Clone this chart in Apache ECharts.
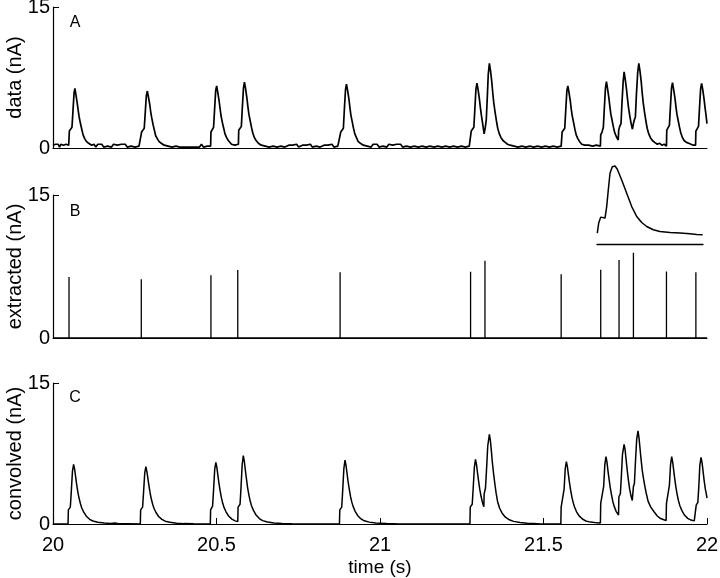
<!DOCTYPE html>
<html>
<head>
<meta charset="utf-8">
<script src="https://cdn.jsdelivr.net/npm/echarts@6/dist/echarts.min.js"></script>
<style>
html,body{margin:0;padding:0;background:#fff;}
#chart{width:720px;height:578px;}
</style>
</head>
<body>
<div id="chart"></div>
<script>
// ---- Data ----
const xTicks = [20, 20.5, 21, 21.5, 22];
const yTicks = [0, 15];
const panelLabels = ['A', 'B', 'C'];
const yNames = ['data (nA)', 'extracted (nA)', 'convolved (nA)'];
const xName = 'time (s)';

// Panel A: recorded data trace [time (s), current (nA)]
const dataTrace = [
[20.000,0.3],[20.004,0.1],[20.008,0.4],[20.012,0.2],[20.016,0.4],[20.020,0.1],[20.024,0.4],[20.028,0.2],[20.032,0.3],[20.036,0.1],[20.040,0.4],[20.044,0.2],[20.048,0.3],
[20.049,0.2],[20.050,1.8],[20.054,2.0],[20.058,2.2],[20.061,3.9],[20.0645,5.9],[20.067,6.35],[20.070,5.7],[20.074,4.8],[20.077,4.0],[20.080,3.3],[20.084,2.6],[20.088,2.0],[20.092,1.4],[20.097,1.0],[20.102,0.7],[20.109,0.5],[20.118,0.3],
[20.125,0.4],[20.131,0.1],[20.137,0.4],[20.143,0.2],[20.149,0.4],[20.155,0.1],[20.161,0.3],[20.167,0.2],[20.173,0.4],[20.179,0.1],[20.185,0.4],[20.191,0.2],[20.197,0.3],[20.203,0.1],[20.209,0.4],[20.215,0.2],[20.221,0.4],[20.227,0.1],[20.233,0.3],[20.239,0.2],[20.245,0.4],[20.251,0.1],[20.257,0.3],[20.263,0.2],[20.269,0.3],
[20.271,1.7],[20.275,1.9],[20.279,2.1],[20.282,3.7],[20.2855,5.6],[20.2885,6.06],[20.292,5.4],[20.296,4.6],[20.299,3.8],[20.302,3.2],[20.306,2.5],[20.310,1.9],[20.314,1.3],[20.319,1.0],[20.324,0.7],[20.331,0.5],[20.340,0.3],
[20.346,0.4],[20.352,0.2],[20.358,0.4],[20.364,0.1],[20.370,0.3],[20.376,0.2],[20.382,0.4],[20.388,0.1],[20.394,0.3],[20.400,0.1],[20.406,0.2],[20.412,0.1],[20.418,0.3],[20.424,0.1],[20.430,0.2],[20.436,0.1],[20.442,0.3],[20.448,0.1],[20.454,0.4],[20.460,0.1],[20.466,0.3],[20.472,0.2],[20.478,0.4],[20.482,0.2],
[20.483,1.7],[20.487,1.9],[20.491,2.2],[20.494,4.0],[20.4975,6.1],[20.5005,6.6],[20.504,5.9],[20.508,5.0],[20.511,4.2],[20.514,3.4],[20.518,2.7],[20.522,2.1],[20.526,1.5],[20.531,1.1],[20.536,0.8],[20.541,0.6],[20.546,0.4],[20.551,0.5],[20.556,0.3],[20.561,0.5],[20.567,0.4],
[20.568,1.9],[20.572,2.1],[20.576,2.3],[20.579,4.3],[20.5825,6.4],[20.5855,7.0],[20.589,6.3],[20.593,5.3],[20.596,4.4],[20.599,3.6],[20.603,2.9],[20.607,2.2],[20.611,1.6],[20.616,1.1],[20.621,0.8],[20.628,0.5],[20.637,0.3],
[20.643,0.4],[20.649,0.2],[20.655,0.4],[20.661,0.1],[20.667,0.3],[20.673,0.2],[20.679,0.4],[20.685,0.1],[20.691,0.3],[20.697,0.2],[20.703,0.4],[20.709,0.1],[20.715,0.2],[20.721,0.3],[20.727,0.1],[20.733,0.3],[20.739,0.2],[20.745,0.4],[20.751,0.1],[20.757,0.2],[20.763,0.3],[20.769,0.1],[20.775,0.3],[20.781,0.2],[20.787,0.4],[20.793,0.1],[20.799,0.3],[20.805,0.2],[20.811,0.3],[20.817,0.1],[20.823,0.2],[20.829,0.3],[20.835,0.1],[20.841,0.3],[20.847,0.2],[20.853,0.4],[20.859,0.1],[20.865,0.3],[20.871,0.2],[20.877,0.3],
[20.880,1.7],[20.884,1.9],[20.888,2.1],[20.891,4.1],[20.8945,6.2],[20.8975,6.8],[20.901,6.1],[20.905,5.2],[20.908,4.3],[20.911,3.5],[20.915,2.8],[20.919,2.1],[20.923,1.5],[20.928,1.1],[20.933,0.7],[20.940,0.5],[20.949,0.3],
[20.955,0.4],[20.961,0.2],[20.967,0.4],[20.973,0.1],[20.979,0.4],[20.985,0.2],[20.991,0.4],[20.997,0.1],[21.003,0.3],[21.009,0.2],[21.015,0.4],[21.021,0.1],[21.027,0.4],[21.033,0.2],[21.039,0.3],[21.045,0.1],[21.051,0.4],[21.057,0.2],[21.063,0.4],[21.069,0.1],[21.075,0.3],[21.081,0.2],[21.087,0.4],[21.093,0.1],[21.099,0.3],[21.105,0.2],[21.111,0.4],[21.117,0.1],[21.123,0.3],[21.129,0.2],[21.135,0.4],[21.141,0.1],[21.147,0.3],[21.153,0.2],[21.159,0.4],[21.165,0.1],[21.171,0.3],[21.177,0.2],[21.183,0.4],[21.189,0.1],[21.195,0.3],[21.201,0.2],[21.207,0.4],[21.213,0.1],[21.219,0.3],[21.225,0.2],[21.231,0.4],[21.237,0.1],[21.243,0.3],[21.249,0.2],[21.255,0.4],[21.261,0.1],[21.267,0.3],[21.273,0.2],[21.278,0.3],
[21.279,1.8],[21.283,2.0],[21.287,2.2],[21.290,4.1],[21.2935,6.3],[21.2965,6.9],[21.300,6.2],[21.304,5.2],[21.307,4.3],[21.310,3.5],[21.313,2.8],[21.316,2.1],[21.3185,1.5],
[21.320,1.7],[21.322,2.2],[21.325,3.0],[21.328,5.3],[21.331,7.8],[21.3345,9.0],[21.338,8.2],[21.342,7.0],[21.345,5.8],[21.348,4.8],[21.352,3.8],[21.356,2.9],[21.360,2.1],[21.365,1.5],[21.370,1.1],[21.376,0.8],[21.383,0.6],[21.390,0.4],[21.398,0.3],
[21.404,0.4],[21.410,0.2],[21.416,0.4],[21.422,0.1],[21.428,0.3],[21.434,0.2],[21.440,0.4],[21.446,0.1],[21.452,0.3],[21.458,0.2],[21.464,0.4],[21.470,0.1],[21.476,0.3],[21.482,0.2],[21.488,0.4],[21.494,0.1],[21.500,0.3],[21.506,0.2],[21.512,0.4],[21.518,0.1],[21.524,0.3],[21.530,0.2],[21.536,0.3],[21.542,0.1],[21.548,0.3],[21.554,0.2],
[21.557,1.7],[21.561,1.9],[21.565,2.1],[21.568,4.0],[21.5715,6.1],[21.5745,6.6],[21.578,5.9],[21.582,5.0],[21.585,4.1],[21.588,3.4],[21.592,2.7],[21.596,2.0],[21.600,1.4],[21.605,1.0],[21.610,0.7],[21.617,0.4],[21.626,0.3],
[21.632,0.2],[21.638,0.3],[21.644,0.1],[21.650,0.2],[21.656,0.1],[21.662,0.3],[21.668,0.1],[21.674,0.2],
[21.675,1.4],[21.679,1.7],[21.683,2.2],[21.686,4.2],[21.6895,6.4],[21.6925,7.06],[21.696,6.3],[21.700,5.3],[21.703,4.4],[21.706,3.6],[21.710,2.9],[21.714,2.2],[21.718,1.6],[21.723,1.2],[21.7285,0.85],
[21.730,1.9],[21.733,2.3],[21.737,2.6],[21.740,4.8],[21.7435,7.0],[21.7465,8.1],[21.750,7.3],[21.754,6.2],[21.757,5.2],[21.760,4.3],[21.764,3.4],[21.768,2.6],[21.772,2.0],[21.7745,1.9],
[21.775,2.6],[21.778,3.0],[21.781,3.3],[21.784,5.6],[21.788,8.0],[21.7915,9.0],[21.795,8.2],[21.799,7.0],[21.802,5.8],[21.805,4.8],[21.809,3.8],[21.813,2.9],[21.817,2.1],[21.822,1.5],[21.827,1.1],[21.833,0.8],[21.840,0.6],[21.848,0.4],[21.855,0.5],[21.862,0.3],[21.869,0.4],[21.876,0.2],
[21.877,1.9],[21.881,2.1],[21.885,2.4],[21.888,4.3],[21.8915,6.4],[21.8945,6.95],[21.898,6.2],[21.902,5.3],[21.905,4.4],[21.908,3.6],[21.912,2.9],[21.916,2.2],[21.920,1.6],[21.925,1.1],[21.930,0.8],[21.937,0.6],[21.944,0.5],[21.951,0.4],[21.958,0.3],[21.963,0.4],[21.965,0.3],
[21.966,1.8],[21.970,2.0],[21.974,2.3],[21.977,4.2],[21.9805,6.3],[21.9835,6.88],[21.987,6.2],[21.991,5.2],[21.994,4.3],[21.997,3.5],[22.000,2.6]
];

// Panel B: extracted events
const spikeTimes = [20.049, 20.270, 20.483, 20.565, 20.878, 21.277, 21.321, 21.554, 21.675, 21.731, 21.775, 21.876, 21.966];
const spikeAmps  = [6.41, 6.17, 6.59, 7.12, 6.90, 6.94, 8.10, 6.70, 7.15, 8.17, 8.94, 6.98, 6.90];

// Panel B inset: kernel waveform (time in ms from start, relative amplitude)
const kernelT = [0.3,1.7,3.7,5.7,8,9.7,11.3,13,15.3,18,20.3,24.7,29.7,34.7,39.7,44.7,49.7,56.3,63,73,83,93,99.7,105.7];
const kernelV = [1.37,2.62,3.36,3.11,3.24,4.68,6.76,8.84,9.66,9.75,9.34,8.0,6.35,4.68,3.44,2.69,2.19,1.78,1.57,1.44,1.37,1.28,1.2,1.16];

// Panel C: convolved trace [time (s), current (nA)]
const convolvedTrace = [
[20.000,0],[20.046,0],[20.047,1.5],[20.053,1.8],[20.056,3.5],[20.0595,5.6],[20.063,6.35],[20.066,5.85],[20.069,5.1],[20.072,4.3],[20.076,3.4],[20.080,2.7],[20.084,2.15],[20.088,1.7],[20.094,1.27],[20.102,0.83],[20.112,0.5],[20.122,0.32],[20.137,0.19],[20.157,0.1],[20.175,0.06],[20.19,0.1],[20.2,0.03],[20.23,0.02],[20.267,0.0],
[20.268,1.5],[20.274,1.8],[20.277,3.4],[20.2805,5.4],[20.284,6.1],[20.287,5.6],[20.290,4.9],[20.293,4.15],[20.297,3.3],[20.301,2.6],[20.305,2.07],[20.309,1.65],[20.315,1.22],[20.323,0.8],[20.333,0.49],[20.343,0.3],[20.358,0.18],[20.378,0.09],[20.40,0.04],[20.43,0.02],[20.481,0.01],
[20.482,1.5],[20.488,1.9],[20.491,3.6],[20.4945,5.8],[20.498,6.56],[20.501,6.05],[20.504,5.25],[20.507,4.45],[20.511,3.55],[20.515,2.8],[20.519,2.2],[20.523,1.77],[20.529,1.3],[20.537,0.85],[20.547,0.52],[20.557,0.33],[20.565,0.25],
[20.566,1.8],[20.572,2.1],[20.575,3.9],[20.5785,6.3],[20.582,7.27],[20.585,6.7],[20.588,5.8],[20.591,4.95],[20.595,3.9],[20.599,3.1],[20.603,2.45],[20.607,1.95],[20.613,1.45],[20.621,0.95],[20.631,0.58],[20.641,0.36],[20.656,0.22],[20.676,0.11],[20.70,0.05],[20.73,0.02],[20.80,0.01],[20.876,0],
[20.877,1.5],[20.883,1.8],[20.886,3.6],[20.8895,5.9],[20.893,6.8],[20.896,6.25],[20.899,5.45],[20.902,4.6],[20.906,3.7],[20.910,2.9],[20.914,2.3],[20.918,1.85],[20.924,1.35],[20.932,0.88],[20.942,0.54],[20.952,0.34],[20.967,0.2],[20.987,0.1],[21.00,0.08],[21.02,0.05],[21.04,0.03],[21.06,0],[21.275,0],
[21.276,1.8],[21.282,2.1],[21.285,3.8],[21.2885,6.0],[21.292,6.88],[21.295,6.35],[21.298,5.5],[21.301,4.7],[21.305,3.7],[21.309,2.95],[21.313,2.35],[21.3175,1.84],
[21.3185,3.2],[21.3225,3.8],[21.3255,5.6],[21.3295,8.3],[21.3345,9.54],[21.3375,8.9],[21.3405,7.8],[21.3435,6.6],[21.3475,5.3],[21.3515,4.2],[21.3555,3.2],[21.3595,2.4],[21.3655,1.7],[21.3735,1.15],[21.3835,0.72],[21.3935,0.48],[21.4085,0.28],[21.4285,0.15],[21.45,0.08],[21.47,0.05],[21.49,0.01],[21.553,0],
[21.554,1.8],[21.560,2.0],[21.563,3.7],[21.5665,5.9],[21.570,6.63],[21.573,6.1],[21.576,5.3],[21.579,4.5],[21.583,3.6],[21.587,2.85],[21.591,2.25],[21.595,1.8],[21.601,1.3],[21.609,0.86],[21.619,0.53],[21.629,0.33],[21.644,0.2],[21.664,0.12],[21.674,0.1],
[21.675,2.2],[21.681,2.4],[21.684,4.0],[21.6875,6.3],[21.691,7.16],[21.694,6.6],[21.697,5.7],[21.700,4.9],[21.704,3.9],[21.708,3.1],[21.712,2.4],[21.716,1.9],[21.722,1.35],[21.7295,0.96],
[21.7305,2.9],[21.735,3.2],[21.738,5.0],[21.7415,7.4],[21.7465,8.48],[21.7495,7.9],[21.7525,6.9],[21.7555,5.9],[21.7595,4.7],[21.7635,3.7],[21.7675,3.0],[21.7715,2.5],[21.7745,2.3],
[21.775,4.0],[21.778,4.3],[21.7815,6.8],[21.785,9.0],[21.789,9.9],[21.792,9.2],[21.795,8.1],[21.798,7.0],[21.802,5.7],[21.806,4.8],[21.810,4.0],[21.814,3.3],[21.820,2.4],[21.828,1.8],[21.838,1.3],[21.848,0.85],[21.858,0.58],[21.868,0.45],[21.875,0.38],
[21.876,2.2],[21.882,2.4],[21.885,4.1],[21.8885,6.3],[21.892,7.16],[21.895,6.6],[21.898,5.75],[21.901,4.9],[21.905,3.9],[21.909,3.1],[21.913,2.45],[21.917,1.95],[21.923,1.45],[21.931,0.95],[21.941,0.6],[21.951,0.42],[21.961,0.33],[21.966,0.3],
[21.967,2.0],[21.972,2.3],[21.975,4.0],[21.978,6.2],[21.9817,7.09],[21.985,6.5],[21.988,5.6],[21.991,4.7],[21.995,3.7],[21.999,3.0],[22.000,2.75]
];

// ---- Build chart ----
const FONT = "'Liberation Sans', Arial, Helvetica, sans-serif";
const BLACK = '#000';

// stick plot for extracted events: baseline with vertical lines
const extractedLine = [[xTicks[0], 0]];
spikeTimes.forEach((t, i) => {
  extractedLine.push([t, 0], [t, spikeAmps[i]], [t, 0]);
});
extractedLine.push([xTicks[xTicks.length - 1], 0]);

const kernelData = kernelT.map((t, i) => [t, kernelV[i]]);

const grids = [
  {left: 53, right: 13, top: 7, height: 141, outerBoundsMode: 'none', containLabel: false},
  {left: 53, right: 13, top: 195, height: 143, outerBoundsMode: 'none', containLabel: false},
  {left: 53, right: 13, top: 383, height: 141, outerBoundsMode: 'none', containLabel: false},
  {left: 597, top: 164, width: 106, height: 80, outerBoundsMode: 'none', containLabel: false}
];

const xAxes = [0, 1, 2].map(i => ({
  gridIndex: i, type: 'value',
  min: xTicks[0], max: xTicks[xTicks.length - 1], interval: 0.5,
  axisLine: {show: true, onZero: false, lineStyle: {color: BLACK, width: 1.2}},
  axisTick: {show: i === 2, inside: true, length: 6, lineStyle: {color: BLACK, width: 1}},
  axisLabel: {show: i === 2, color: BLACK, fontSize: 20, fontFamily: FONT, margin: 11},
  splitLine: {show: false},
  name: i === 2 ? xName : '',
  nameLocation: 'middle', nameGap: 34, nameMoveOverlap: false,
  nameTextStyle: {color: BLACK, fontSize: 19, fontFamily: FONT}
}));
xAxes.push({
  gridIndex: 3, type: 'value', min: 0, max: 106,
  axisLine: {show: true, onZero: false, lineStyle: {color: BLACK, width: 1.3}},
  axisTick: {show: false}, axisLabel: {show: false}, splitLine: {show: false}
});

const yAxes = [0, 1, 2].map(i => ({
  gridIndex: i, type: 'value',
  min: yTicks[0], max: yTicks[1], interval: yTicks[1] - yTicks[0],
  axisLine: {show: true, lineStyle: {color: BLACK, width: 1.2}},
  axisTick: {show: true, inside: true, length: 6, lineStyle: {color: BLACK, width: 1}},
  axisLabel: {color: BLACK, fontSize: 20, fontFamily: FONT, margin: 3},
  splitLine: {show: false},
  name: yNames[i], nameLocation: 'middle', nameGap: 28, nameMoveOverlap: false,
  nameTextStyle: {color: BLACK, fontSize: 20, fontFamily: FONT}
}));
yAxes.push({
  gridIndex: 3, type: 'value', min: 0, max: 10, show: false
});

const lineCommon = {type: 'line', showSymbol: false, symbol: 'none', animation: false, silent: true};

const option = {
  backgroundColor: '#fff',
  animation: false,
  grid: grids,
  xAxis: xAxes,
  yAxis: yAxes,
  graphic: panelLabels.map((txt, i) => ({
    type: 'text',
    x: 75, y: [23, 211.5, 398][i],
    style: {text: txt, fill: BLACK, fontSize: 16, fontFamily: FONT, align: 'center', verticalAlign: 'middle'}
  })),
  series: [
    Object.assign({}, lineCommon, {xAxisIndex: 0, yAxisIndex: 0, data: dataTrace, lineStyle: {color: BLACK, width: 1.7}}),
    Object.assign({}, lineCommon, {xAxisIndex: 1, yAxisIndex: 1, data: extractedLine, lineStyle: {color: BLACK, width: 1.3}}),
    Object.assign({}, lineCommon, {xAxisIndex: 2, yAxisIndex: 2, data: convolvedTrace, lineStyle: {color: BLACK, width: 1.5}}),
    Object.assign({}, lineCommon, {xAxisIndex: 3, yAxisIndex: 3, data: kernelData, lineStyle: {color: BLACK, width: 1.5}})
  ]
};

const chart = echarts.init(document.getElementById('chart'), null, {renderer: 'canvas'});
chart.setOption(option);
</script>
</body>
</html>
